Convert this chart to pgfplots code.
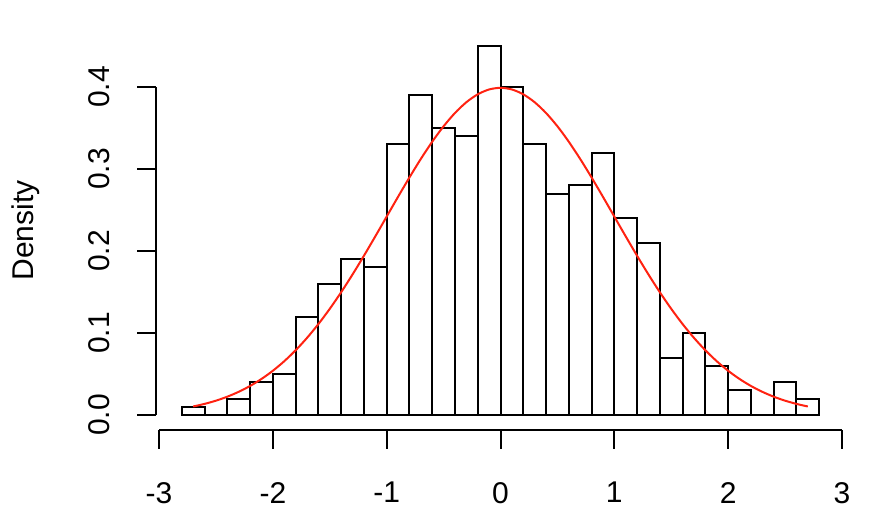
\documentclass[border=0pt]{standalone}
\usepackage{pgfplots}
\pgfplotsset{compat=1.18}
\usepackage{pgfplotstable}
\usepackage{fontspec}
\setmainfont{Liberation Sans}
\definecolor{curvered}{RGB}{255,34,17}

\pgfplotstableread{
x y
-2.8 0.01
-2.6 0.00
-2.4 0.02
-2.2 0.04
-2.0 0.05
-1.8 0.12
-1.6 0.16
-1.4 0.19
-1.2 0.18
-1.0 0.33
-0.8 0.39
-0.6 0.35
-0.4 0.34
-0.2 0.45
0.0 0.40
0.2 0.33
0.4 0.27
0.6 0.28
0.8 0.32
1.0 0.24
1.2 0.21
1.4 0.07
1.6 0.10
1.8 0.06
2.0 0.03
2.2 0.00
2.4 0.04
2.6 0.02
2.8 0.02
}\histdata

\pgfplotstableread{
x y
-2.7 0.01042
-2.6 0.01358
-2.5 0.01753
-2.4 0.02239
-2.3 0.02833
-2.2 0.03547
-2.1 0.04398
-2.0 0.05399
-1.9 0.06562
-1.8 0.07895
-1.7 0.09405
-1.6 0.11092
-1.5 0.12952
-1.4 0.14973
-1.3 0.17137
-1.2 0.19419
-1.1 0.21785
-1.0 0.24197
-0.9 0.26609
-0.8 0.28969
-0.7 0.31225
-0.6 0.33322
-0.5 0.35207
-0.4 0.36827
-0.3 0.38139
-0.2 0.39104
-0.1 0.39695
0.0 0.39894
0.1 0.39695
0.2 0.39104
0.3 0.38139
0.4 0.36827
0.5 0.35207
0.6 0.33322
0.7 0.31225
0.8 0.28969
0.9 0.26609
1.0 0.24197
1.1 0.21785
1.2 0.19419
1.3 0.17137
1.4 0.14973
1.5 0.12952
1.6 0.11092
1.7 0.09405
1.8 0.07895
1.9 0.06562
2.0 0.05399
2.1 0.04398
2.2 0.03547
2.3 0.02833
2.4 0.02239
2.5 0.01753
2.6 0.01358
2.7 0.01042
}\curvedata

\begin{document}
\begin{tikzpicture}
\fontsize{15}{18}\selectfont
\useasboundingbox (-78.15pt,-50.1pt) rectangle (362.85pt,214.9pt);
\begin{axis}[
  scale only axis,
  width=344.2pt, height=199.3pt,
  at={(0,0)}, anchor=south west,
  xmin=-3.024, xmax=3.024,
  ymin=-0.018, ymax=0.468,
  axis x line*=bottom, axis y line*=left,
  axis line style={draw=none},
  tick align=outside,
  major tick length=9.5pt,
  tick style={black, line width=1pt},
  xtick={-3,-2,-1,0,1,2,3},
  xticklabels={-3,-2,-1,0,1,2,3},
  ytick={0,0.1,0.2,0.3,0.4},
  yticklabels={0.0,0.1,0.2,0.3,0.4},
  xticklabel style={font=\fontsize{15}{18}\selectfont, yshift=-11.5pt},
  yticklabel style={font=\fontsize{15}{18}\selectfont, xshift=-8.5pt, rotate=90},
  ylabel={Density},
  ylabel style={font=\fontsize{15}{18}\selectfont,
    at={([xshift=-61.6pt]axis description cs:0,0.5)}, anchor=base},
  clip=false,
]
\addplot[ybar interval, fill=white, draw=black, line width=1pt] table[x=x,y=y] {\histdata};
\addplot[curvered, line width=1pt, smooth, no marks] table[x=x,y=y] {\curvedata};
\draw[line width=1pt] (axis cs:-3,-0.018) -- (axis cs:3,-0.018);
\draw[line width=1pt] (axis cs:-3.024,0) -- (axis cs:-3.024,0.4);
\end{axis}
\end{tikzpicture}
\end{document}
